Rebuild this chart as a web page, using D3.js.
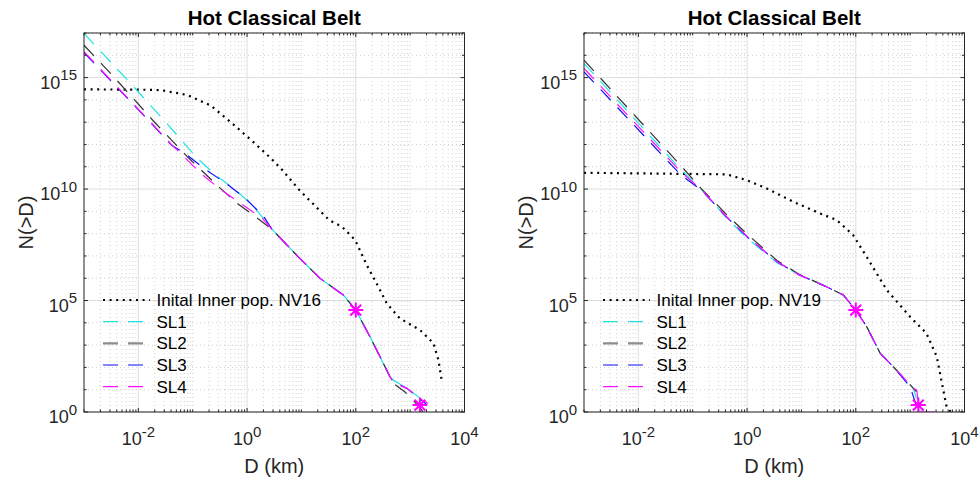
<!DOCTYPE html>
<html><head><meta charset="utf-8">
<script src="https://cdn.jsdelivr.net/npm/d3@7"></script>
<style>
body{margin:0;background:#fff}
svg{display:block;font-family:"Liberation Sans",Arial,Helvetica,sans-serif}
</style>
</head><body>
<svg id="chart" width="979" height="479"></svg>
<script>
// ---------- data (log10 values) ----------
const titles = ["Hot Classical Belt", "Hot Classical Belt"];
const initialNames = ["Inital Inner pop. NV16", "Inital Inner pop. NV19"];
const seriesNames = ["SL1", "SL2", "SL3", "SL4"];
const xTickExps = [-2, 0, 2, 4];
const yTickExps = [0, 5, 10, 15];

// left panel
const leftInit_logD = [-3, -2, -1.59, -1.1, -0.67, -0.3, 0.07, 0.43, 0.65, 0.96, 1.51, 1.75, 1.99, 2.2, 2.35, 2.57, 2.81, 3.18, 3.43, 3.52, 3.58];
const leftInit_logN = [14.47, 14.46, 14.44, 14.22, 13.75, 13.0, 12.21, 11.4, 10.85, 9.96, 8.61, 8.3, 7.71, 6.6, 5.92, 4.87, 4.2, 3.68, 3.08, 2.33, 1.43];
const leftSL1_logD = [-3, -2.17, -1.53, -0.915, -0.58, -0.21, 0.10, 0.46, 0.97, 1.34, 1.77, 2.0, 2.26, 2.63, 2.69, 2.97, 3.27];
const leftSL1_logN = [16.98, 14.81, 13.09, 11.38, 10.63, 9.95, 9.28, 8.19, 6.89, 6.0, 5.25, 4.57, 3.38, 1.58, 1.43, 1.02, 0.45];
const leftSL2_logD = [-3, -2.48, -1.71, -1.07, -0.49, -0.18, 0.19, 0.46, 0.97, 1.34, 1.77, 2.0, 2.26, 2.63, 2.67, 2.90, 3.03, 3.24];
const leftSL2_logN = [16.45, 15.11, 13.02, 11.38, 10.03, 9.36, 8.69, 8.19, 6.89, 6.0, 5.25, 4.57, 3.38, 1.58, 1.32, 0.91, 0.61, 0.0];
const leftSL3_logD = [-3, -1.84, -1.38, -1.16, -0.79, -0.39, -0.03, 0.31, 0.46, 0.97, 1.34, 1.77, 2.0, 2.26, 2.63, 2.69, 2.94, 3.22, 3.30];
const leftSL3_logN = [16.12, 13.15, 11.95, 11.63, 10.92, 10.26, 9.58, 8.76, 8.19, 6.89, 6.0, 5.25, 4.57, 3.38, 1.58, 1.35, 1.06, 0.5, 0.35];
const leftSL4_logD = [-3, -1.84, -1.38, -1.16, -0.85, -0.49, -0.12, 0.28, 0.46, 0.97, 1.34, 1.77, 2.0, 2.26, 2.63, 2.69, 2.94, 3.22, 3.33];
const leftSL4_logN = [16.16, 13.17, 11.97, 11.45, 10.70, 9.98, 9.36, 8.69, 8.19, 6.89, 6.0, 5.25, 4.57, 3.38, 1.58, 1.35, 1.06, 0.54, 0.39];
const leftStar_logD = [2.0, 3.18];
const leftStar_logN = [4.57, 0.31];

// right panel
const rightInit_logD = [-3, -0.375, -0.007, 0.36, 0.85, 1.34, 1.65, 1.95, 2.2, 2.57, 3.0, 3.30, 3.49, 3.67, 3.75];
const rightInit_logN = [10.73, 10.66, 10.4, 10.03, 9.43, 8.91, 8.61, 7.94, 6.96, 5.47, 4.27, 3.53, 2.48, 0.24, 0.0];
const rightSL1_logD = [-3, -1.23, -0.835, -0.375, 0.0, 0.55, 0.97, 1.46, 1.77, 2.0, 2.2, 2.45, 2.69, 3.06, 3.13, 3.17];
const rightSL1_logN = [15.64, 10.9, 9.96, 8.7, 7.8, 6.7, 6.14, 5.62, 5.25, 4.57, 3.83, 2.63, 2.03, 1.06, 0.5, 0.0];
const rightSL2_logD = [-3, -1.23, -0.835, -0.375, 0.0, 0.55, 0.97, 1.46, 1.77, 2.0, 2.2, 2.45, 2.69, 3.06, 3.12];
const rightSL2_logN = [15.78, 11.08, 10.0, 8.85, 7.98, 6.8, 6.16, 5.62, 5.25, 4.57, 3.83, 2.63, 2.03, 1.06, 0.91];
const rightSL3_logD = [-3, -1.23, -0.835, -0.375, 0.0, 0.55, 0.97, 1.46, 1.77, 2.0, 2.2, 2.45, 2.69, 3.0, 3.09, 3.15];
const rightSL3_logN = [15.26, 10.66, 9.94, 8.74, 7.86, 6.74, 6.14, 5.62, 5.25, 4.57, 3.83, 2.63, 2.03, 1.13, 0.46, 0.0];
const rightSL4_logD = [-3, -1.23, -0.835, -0.375, 0.0, 0.55, 0.97, 1.46, 1.77, 2.0, 2.2, 2.45, 2.69, 3.06, 3.12, 3.16, 3.21, 3.46];
const rightSL4_logN = [15.41, 10.8, 9.96, 8.76, 7.88, 6.74, 6.14, 5.62, 5.25, 4.57, 3.83, 2.63, 2.03, 1.06, 0.99, 0.31, 0.0, 0.0];
const rightStar_logD = [2.0, 3.15];
const rightStar_logN = [4.57, 0.31];

// ---------- build ----------
const toPts = (ld, ln) => ld.map((d, i) => ({D: Math.pow(10, d), N: Math.pow(10, ln[i])}));
const panels = [
  {ox: 84, title: titles[0], initName: initialNames[0],
   init: toPts(leftInit_logD, leftInit_logN),
   sl: [toPts(leftSL1_logD, leftSL1_logN), toPts(leftSL2_logD, leftSL2_logN), toPts(leftSL3_logD, leftSL3_logN), toPts(leftSL4_logD, leftSL4_logN)],
   stars: toPts(leftStar_logD, leftStar_logN)},
  {ox: 584, title: titles[1], initName: initialNames[1],
   init: toPts(rightInit_logD, rightInit_logN),
   sl: [toPts(rightSL1_logD, rightSL1_logN), toPts(rightSL2_logD, rightSL2_logN), toPts(rightSL3_logD, rightSL3_logN), toPts(rightSL4_logD, rightSL4_logN)],
   stars: toPts(rightStar_logD, rightStar_logN)}
];

const W = 380.5, H = 379, OY = 33;
const axisColor = "#262626";
const slColors = ["#1fe3e3", "#333333", "#1010ff", "#ff10ff"];
const slLegendColors = ["#1fe3e3", "#8c8c8c", "#1010ff", "#ff10ff"];
const slLegendWidths = [1.2, 2.2, 1.2, 1.2];
const dash = "14.5,10";

const svg = d3.select("#chart");
const x = d3.scaleLog().domain([1e-3, 1e4]).range([0, W]);
const y = d3.scaleLog().domain([1, 1e17]).range([H, 0]);

const majorX = xTickExps.map(e => Math.pow(10, e));
const allX = x.ticks();  // 1..9 per decade
const minorX = allX.filter(v => !majorX.some(m => Math.abs(Math.log10(v) - Math.log10(m)) < 1e-9));
const allYExps = d3.range(0, 18);
const majorY = yTickExps.map(e => Math.pow(10, e));
const minorY = allYExps.filter(e => !yTickExps.includes(e)).map(e => Math.pow(10, e));

const line = d3.line().x(d => x(d.D)).y(d => y(d.N));

panels.forEach((p, pi) => {
  const g = svg.append("g").attr("transform", `translate(${p.ox},${OY})`);
  const clipId = "clip" + pi;
  g.append("clipPath").attr("id", clipId).append("rect").attr("width", W).attr("height", H);

  // minor grid
  g.append("g").selectAll("line").data(minorX).join("line")
    .attr("x1", d => x(d)).attr("x2", d => x(d)).attr("y1", 0).attr("y2", H)
    .attr("stroke", "#d2d2d2").attr("stroke-width", 1).attr("stroke-dasharray", "1,3");
  g.append("g").selectAll("line").data(minorY).join("line")
    .attr("y1", d => y(d)).attr("y2", d => y(d)).attr("x1", 0).attr("x2", W)
    .attr("stroke", "#d2d2d2").attr("stroke-width", 1).attr("stroke-dasharray", "1,3");
  // major grid
  g.append("g").selectAll("line").data(majorX).join("line")
    .attr("x1", d => x(d)).attr("x2", d => x(d)).attr("y1", 0).attr("y2", H)
    .attr("stroke", "#dedede").attr("stroke-width", 1);
  g.append("g").selectAll("line").data(majorY).join("line")
    .attr("y1", d => y(d)).attr("y2", d => y(d)).attr("x1", 0).attr("x2", W)
    .attr("stroke", "#dedede").attr("stroke-width", 1);

  const plot = g.append("g").attr("clip-path", `url(#${clipId})`);
  // initial population (dotted)
  plot.append("path").datum(p.init).attr("d", line)
    .attr("fill", "none").attr("stroke", "#000").attr("stroke-width", 2.2)
    .attr("stroke-dasharray", "2,4.6");
  // SL series (dashed)
  p.sl.forEach((s, i) => {
    plot.append("path").datum(s).attr("d", line)
      .attr("fill", "none").attr("stroke", slColors[i]).attr("stroke-width", 1.2)
      .attr("stroke-dasharray", dash);
  });
  // star markers
  const r = 7.5, rr = r * 0.72;
  plot.append("g").selectAll("path").data(p.stars).join("path")
    .attr("transform", d => `translate(${x(d.D)},${y(d.N)})`)
    .attr("d", `M${-r},0H${r}M0,${-r}V${r}M${-rr},${-rr}L${rr},${rr}M${-rr},${rr}L${rr},${-rr}`)
    .attr("stroke", "#ff00ff").attr("stroke-width", 2).attr("fill", "none");

  // axes box
  g.append("rect").attr("width", W).attr("height", H).attr("fill", "none")
    .attr("stroke", axisColor).attr("stroke-width", 1);
  // ticks (inside, all four sides)
  const tk = g.append("g").attr("stroke", axisColor).attr("stroke-width", 1);
  const xt = minorX.map(v => ({v, L: 2.5})).concat(majorX.map(v => ({v, L: 4})));
  xt.forEach(t => {
    const px = x(t.v);
    tk.append("line").attr("x1", px).attr("x2", px).attr("y1", H).attr("y2", H - t.L);
    tk.append("line").attr("x1", px).attr("x2", px).attr("y1", 0).attr("y2", t.L);
  });
  const yt = minorY.map(v => ({v, L: 2.5})).concat(majorY.map(v => ({v, L: 4})));
  yt.forEach(t => {
    const py = y(t.v);
    tk.append("line").attr("y1", py).attr("y2", py).attr("x1", 0).attr("x2", t.L);
    tk.append("line").attr("y1", py).attr("y2", py).attr("x1", W).attr("x2", W - t.L);
  });

  // x tick labels
  xTickExps.forEach(e => {
    const t = g.append("text").attr("x", x(Math.pow(10, e))).attr("y", H + 33)
      .attr("text-anchor", "middle").attr("fill", axisColor).attr("font-size", 18);
    t.append("tspan").text("10");
    t.append("tspan").attr("dy", -8.5).attr("font-size", 15).text(e < 0 ? "-" + (-e) : String(e));
  });
  // y tick labels
  yTickExps.forEach(e => {
    const t = g.append("text").attr("x", -7).attr("y", y(Math.pow(10, e)) + 11)
      .attr("text-anchor", "end").attr("fill", axisColor).attr("font-size", 18);
    t.append("tspan").text("10");
    t.append("tspan").attr("dy", -8.5).attr("font-size", 15).text(String(e));
  });

  // title and axis labels
  g.append("text").attr("x", W / 2).attr("y", -8).attr("text-anchor", "middle")
    .attr("font-size", 20.5).attr("font-weight", "bold").attr("fill", "#000").text(p.title);
  g.append("text").attr("x", W / 2).attr("y", H + 61).attr("text-anchor", "middle")
    .attr("font-size", 20).attr("fill", axisColor).text("D (km)");
  g.append("text").attr("transform", `translate(-51,${H / 2}) rotate(-90)`)
    .attr("text-anchor", "middle").attr("font-size", 20).attr("fill", axisColor).text("N(>D)");

  // legend (no box)
  const lg = g.append("g");
  const rows = [267, 288.7, 310.3, 332, 353.7];
  const lx1 = 19, lx2 = 66, tx = 72.5;
  lg.append("line").attr("x1", lx1).attr("x2", lx2).attr("y1", rows[0]).attr("y2", rows[0])
    .attr("stroke", "#000").attr("stroke-width", 2.2).attr("stroke-dasharray", "2,4.6");
  lg.append("text").attr("x", tx).attr("y", rows[0] + 6).attr("font-size", 17).attr("fill", "#000").text(p.initName);
  seriesNames.forEach((n, i) => {
    const yy = rows[i + 1];
    lg.append("line").attr("x1", lx1).attr("x2", lx2).attr("y1", yy).attr("y2", yy)
      .attr("stroke", slLegendColors[i]).attr("stroke-width", slLegendWidths[i]).attr("stroke-dasharray", "15,10");
    lg.append("text").attr("x", tx).attr("y", yy + 6).attr("font-size", 17).attr("fill", "#000").text(n);
  });
});
</script>
</body></html>
